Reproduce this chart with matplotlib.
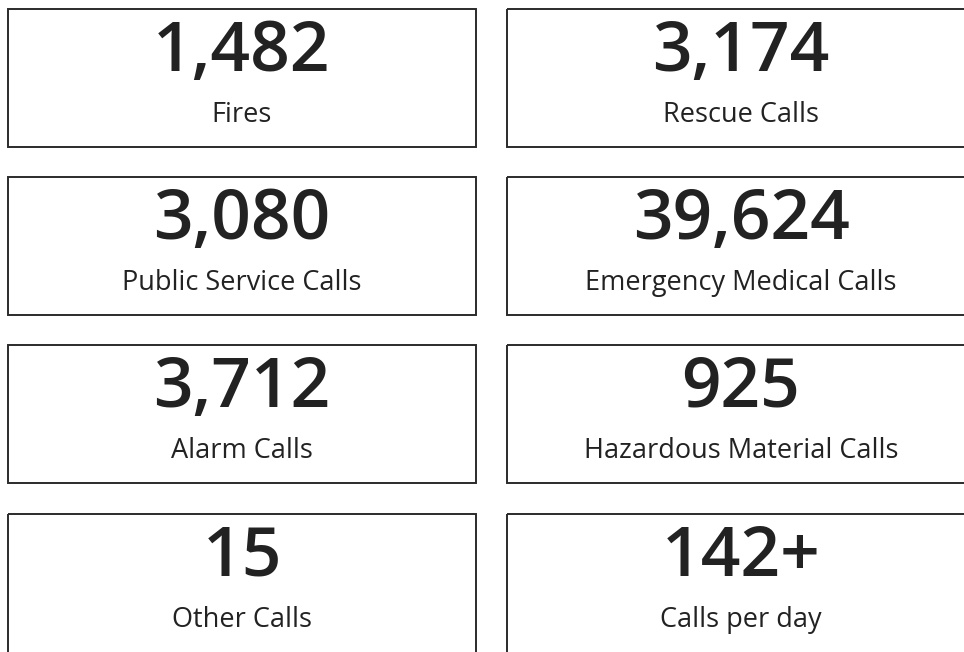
import matplotlib.pyplot as plt
from matplotlib.patches import Rectangle

# stat tiles, read row by row (left, right)
values = ['1,482', '3,174', '3,080', '39,624', '3,712', '925', '15', '142+']
labels = ['Fires', 'Rescue Calls', 'Public Service Calls', 'Emergency Medical Calls',
          'Alarm Calls', 'Hazardous Material Calls', 'Other Calls', 'Calls per day']

W, H = 964, 652
col_x = [8, 507]
box_w = 468
row_y = [9, 177, 345, 514]
box_h = 138

fig = plt.figure(figsize=(W / 100, H / 100), dpi=100)
ax = fig.add_axes([0, 0, 1, 1])
ax.set_xlim(0, W)
ax.set_ylim(H, 0)
ax.axis('off')

for i, (val, lab) in enumerate(zip(values, labels)):
    r, c = divmod(i, 2)
    x0, y0 = col_x[c], row_y[r]
    # last row runs off the bottom of the canvas
    h = box_h if r < len(row_y) - 1 else box_h + 20
    ax.add_patch(Rectangle((x0, y0), box_w, h, fill=False,
                           edgecolor='#2b2b2b', linewidth=1.4))
    cx = x0 + box_w / 2
    ax.text(cx, y0 + 44, val, ha='center', va='center', fontsize=50,
            family='Open Sans', weight='semibold', color='#222222')
    ax.text(cx, y0 + 106, lab, ha='center', va='center', fontsize=19.5,
            family='Open Sans', color='#222222')

fig.savefig('out.png', dpi=100)
